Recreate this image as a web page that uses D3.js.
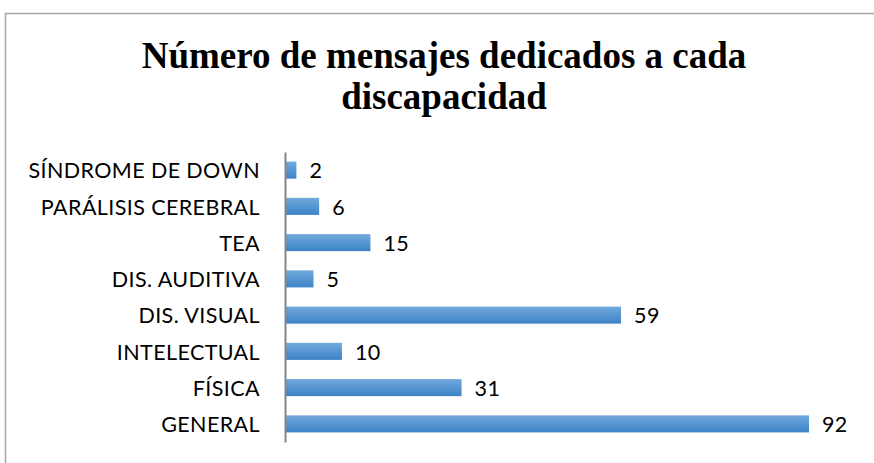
<!DOCTYPE html>
<html>
<head>
<meta charset="utf-8">
<script src="https://cdn.jsdelivr.net/npm/d3@7"></script>
<style>
  body { margin: 0; background: #fff; }
  svg { display: block; }
</style>
</head>
<body>
<div class="container"></div>
<script>
const WIDTH = 874;
const HEIGHT = 463;

// data, top to bottom as in the chart
const categories = ["SÍNDROME DE DOWN", "PARÁLISIS CEREBRAL", "TEA", "DIS. AUDITIVA",
                    "DIS. VISUAL", "INTELECTUAL", "FÍSICA", "GENERAL"];
const values = [2, 6, 15, 5, 59, 10, 31, 92];
const titleLines = ["Número de mensajes dedicados a cada", "discapacidad"];

const AXIS_X = 285;
const TOP = 152;
const BOTTOM = 442;
const LABEL_FONT = 'Lato, "Open Sans", sans-serif';

var svg = d3.select('.container').append('svg')
    .attr('width', WIDTH)
    .attr('height', HEIGHT);

var defs = svg.append('defs');
var grad = defs.append('linearGradient')
    .attr('id', 'barGrad')
    .attr('x1', 0).attr('y1', 0).attr('x2', 0).attr('y2', 1);
grad.append('stop').attr('offset', '0%').attr('stop-color', '#72a9de');
grad.append('stop').attr('offset', '100%').attr('stop-color', '#3c83c6');

// chart frame
svg.append('path')
    .attr('d', 'M5.5,' + HEIGHT + 'V13.5H' + WIDTH)
    .attr('fill', 'none')
    .attr('stroke', '#a6a6a6')
    .attr('stroke-width', 1.5);

// title
svg.append('text')
    .attr('x', 444)
    .attr('font-family', '"Liberation Serif", "Times New Roman", serif')
    .attr('font-weight', 'bold')
    .attr('font-size', 37)
    .attr('text-anchor', 'middle')
    .selectAll('tspan')
    .data(titleLines)
    .enter()
    .append('tspan')
    .attr('x', 444)
    .attr('y', function (d, i) { return 68 + i * 41; })
    .text(function (d) { return d; });

var xScale = d3.scaleLinear()
    .domain([0, 92])
    .range([AXIS_X, 809]);

var yScale = d3.scaleBand()
    .domain(categories)
    .range([TOP, BOTTOM])
    .paddingInner(0.53)
    .paddingOuter(0.265);

var g = svg.append('g');

g.selectAll('rect.bar')
    .data(values)
    .enter()
    .append('rect')
    .classed('bar', true)
    .attr('x', xScale(0))
    .attr('y', function (d, i) { return yScale(categories[i]); })
    .attr('width', function (d) { return xScale(d) - xScale(0); })
    .attr('height', yScale.bandwidth())
    .attr('fill', 'url(#barGrad)');

g.selectAll('text.val')
    .data(values)
    .enter()
    .append('text')
    .classed('val', true)
    .attr('x', function (d) { return xScale(d) + 13; })
    .attr('y', function (d, i) { return yScale(categories[i]) + yScale.bandwidth() / 2; })
    .attr('dy', '0.38em')
    .attr('font-family', LABEL_FONT)
    .attr('font-size', 21.5)
    .attr('letter-spacing', 0.4)
    .attr('fill', '#000')
    .text(function (d) { return d; });

// category axis
var yAxis = d3.axisLeft(yScale).tickSize(0).tickPadding(25);
var axisG = svg.append('g')
    .attr('transform', 'translate(' + AXIS_X + ',0)')
    .call(yAxis);
axisG.select('.domain')
    .attr('stroke', '#868686')
    .attr('stroke-width', 2);
axisG.selectAll('text')
    .attr('font-family', LABEL_FONT)
    .attr('font-size', 21.5)
    .attr('letter-spacing', 0.4)
    .attr('dy', '0.38em')
    .attr('fill', '#000');
</script>
</body>
</html>
